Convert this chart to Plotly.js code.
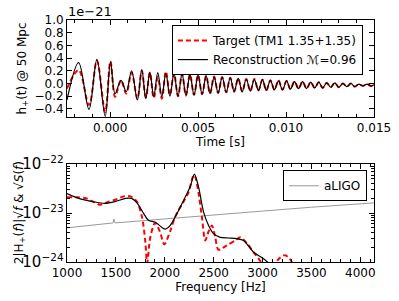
<!DOCTYPE html>
<html>
<head>
<meta charset="utf-8">
<script src="https://cdn.plot.ly/plotly-3.0.1.min.js"></script>
<style>html,body{margin:0;padding:0;background:#fff;}#chart{width:399px;height:301px;}</style>
</head>
<body>
<div id="chart"></div>
<script>
// ---- Top panel: time-domain waveform (extrema) ----
const timeMs = [-2.45, -1.79, -1.20, -0.75, -0.28, 0.02, 0.28, 0.62, 0.92, 1.22,
  1.55, 1.80, 2.03, 2.26, 2.48, 2.71, 2.94, 3.17, 3.40, 3.63,
  3.86, 4.09, 4.31, 4.54, 4.77, 5.00, 5.23, 5.46, 5.68, 5.91,
  6.14, 6.37, 6.60, 6.83, 7.05, 7.28, 7.51, 7.74, 7.97, 8.20,
  8.43, 8.66, 8.88, 9.11, 9.34, 9.57, 9.80, 10.03, 10.25, 10.48,
  10.71, 10.94, 11.17, 11.40, 11.63, 11.86, 12.08, 12.31, 12.54, 12.77,
  13.00, 13.23, 13.46, 13.68, 13.91, 14.14, 14.37, 14.60, 14.83, 15.00];
// strain in units of 1e-21
const hTarget = [-0.08, 0.21, -0.34, 0.36, -0.45, 0.35, -0.21, 0.05, -0.16, 0.17,
  -0.24, 0.20, -0.22, 0.17, -0.23, 0.10, -0.24, 0.19, -0.18, 0.16,
  -0.20, 0.15, -0.19, 0.14, -0.18, 0.13, -0.17, 0.12, -0.16, 0.11,
  -0.15, 0.10, -0.14, 0.09, -0.13, 0.08, -0.13, 0.07, -0.12, 0.07,
  -0.11, 0.06, -0.11, 0.05, -0.10, 0.05, -0.10, 0.04, -0.09, 0.03,
  -0.08, 0.03, -0.08, 0.02, -0.07, 0.02, -0.07, 0.01, -0.06, 0.01,
  -0.06, 0.00, -0.05, 0.00, -0.05, -0.01, -0.04, -0.01, -0.04, -0.02];
const hRecon = [-0.26, 0.33, -0.41, 0.38, -0.52, 0.34, -0.16, 0.05, -0.13, 0.20,
  -0.26, 0.22, -0.24, 0.18, -0.21, 0.17, -0.21, 0.16, -0.20, 0.16,
  -0.20, 0.15, -0.19, 0.14, -0.18, 0.13, -0.17, 0.12, -0.16, 0.10,
  -0.15, 0.10, -0.14, 0.09, -0.13, 0.08, -0.13, 0.07, -0.12, 0.06,
  -0.11, 0.06, -0.11, 0.05, -0.10, 0.04, -0.10, 0.04, -0.09, 0.03,
  -0.08, 0.03, -0.08, 0.02, -0.07, 0.02, -0.07, 0.01, -0.06, 0.01,
  -0.06, 0.00, -0.05, 0.00, -0.05, -0.01, -0.04, -0.01, -0.04, -0.02];

// ---- Bottom panel: spectra ----
const freqTarget = [1000, 1100, 1200, 1280, 1340, 1420, 1500, 1580, 1650, 1716,
  1767, 1800, 1820, 1852, 1900, 1950, 1995, 2056, 2100, 2141,
  2192, 2244, 2295, 2312, 2346, 2380, 2414, 2448, 2482, 2516,
  2550, 2636, 2721, 2772, 2841, 2909, 2960, 3000, 3080, 3150,
  3230, 3290, 3350];
const ampTarget = [2.1e-23, 2.1e-23, 2.0e-23, 1.66e-23, 1.48e-23, 1.7e-23, 1.9e-23, 2.2e-23, 2.2e-23, 1.7e-23,
  8.3e-24, 2.75e-24, 9.5e-25, 3.2e-24, 6.3e-24, 4.2e-24, 2.3e-24, 4.3e-24, 7.9e-24, 1.15e-23,
  1.7e-23, 2.7e-23, 6.0e-23, 5.5e-23, 2.5e-23, 8.3e-24, 2.75e-24, 4.2e-24, 5.6e-24, 3.2e-24,
  1.78e-24, 2.2e-24, 2.75e-24, 3.2e-24, 2.4e-24, 1.58e-24, 1.17e-24, 8.9e-25, 5.0e-25, 1.07e-24,
  1.38e-24, 1.07e-24, 5.0e-25];
const freqRecon = [1000, 1136, 1250, 1390, 1500, 1600, 1660, 1716, 1784, 1835,
  1903, 1971, 2005, 2056, 2125, 2192, 2261, 2303, 2346, 2397,
  2448, 2499, 2567, 2650, 2738, 2806, 2909, 3010, 3062, 3150];
const ampRecon = [2.5e-23, 1.95e-23, 1.74e-23, 1.58e-23, 1.74e-23, 2.0e-23, 2.0e-23, 1.62e-23, 9.8e-24, 7.1e-24,
  6.5e-24, 5.1e-24, 4.7e-24, 5.6e-24, 9.8e-24, 1.82e-23, 3.5e-23, 6.3e-23, 3.4e-23, 1.05e-23,
  5.6e-24, 3.8e-24, 3.2e-24, 3.1e-24, 3.0e-24, 2.75e-24, 1.58e-24, 1.17e-24, 9.5e-25, 5.0e-25];
const freqALIGO = [1000, 1470, 1480, 1490, 2000, 2500, 3000, 3500, 4140];
const ampALIGO = [5.0e-24, 6.3e-24, 7.6e-24, 6.3e-24, 7.6e-24, 9.3e-24, 1.10e-23, 1.32e-23, 1.62e-23];

const FONT = "DejaVu Sans, Liberation Sans, sans-serif";

const traces = [
  {x: timeMs.map(t => t / 1000), y: hTarget, xaxis: 'x', yaxis: 'y', mode: 'lines',
   name: 'Target (TM1 1.35+1.35)', line: {color: '#ff0000', width: 2, dash: '5px,3px', shape: 'spline', smoothing: 1}},
  {x: timeMs.map(t => t / 1000), y: hRecon, xaxis: 'x', yaxis: 'y', mode: 'lines',
   name: 'Reconstruction \u2133=0.96', line: {color: '#000000', width: 1.2, shape: 'spline', smoothing: 1}},
  {x: freqALIGO, y: ampALIGO, xaxis: 'x2', yaxis: 'y2', mode: 'lines', name: 'aLIGO', legend: 'legend2',
   line: {color: '#999999', width: 1}},
  {x: freqTarget, y: ampTarget, xaxis: 'x2', yaxis: 'y2', mode: 'lines', showlegend: false,
   line: {color: '#ff0000', width: 2, dash: '5px,3px', shape: 'spline', smoothing: 0.8}},
  {x: freqRecon, y: ampRecon, xaxis: 'x2', yaxis: 'y2', mode: 'lines', showlegend: false,
   line: {color: '#000000', width: 1.2, shape: 'spline', smoothing: 0.8}}
];

const axBase = {showline: true, linecolor: '#000', linewidth: 1, mirror: 'ticks', ticks: 'inside',
  ticklen: 5, tickcolor: '#000', showgrid: false, zeroline: false,
  tickfont: {family: FONT, size: 12, color: '#000'}};

const layout = {
  width: 399, height: 301,
  margin: {l: 67, r: 25, t: 20, b: 39},
  paper_bgcolor: '#fff', plot_bgcolor: '#fff',
  font: {family: FONT, size: 12, color: '#000'},
  xaxis: Object.assign({}, axBase, {domain: [0, 1], anchor: 'y', range: [-0.00245, 0.015],
    tick0: 0, dtick: 0.005, tickformat: '.3f',
    minor: {dtick: 0.001, ticks: 'inside', ticklen: 3, tickcolor: '#000'},
    title: {text: 'Time [s]', font: {family: FONT, size: 12}, standoff: 2}}),
  yaxis: Object.assign({}, axBase, {domain: [0.599, 1], anchor: 'x', range: [-0.53, 1.001],
    tick0: 0, dtick: 0.2, tickformat: '.1f'}),
  xaxis2: Object.assign({}, axBase, {domain: [0, 1], anchor: 'y2', range: [1000, 4140],
    tick0: 1000, dtick: 500,
    minor: {dtick: 100, ticks: 'inside', ticklen: 3, tickcolor: '#000'},
    title: {text: 'Frequency [Hz]', font: {family: FONT, size: 12}, standoff: 2}}),
  yaxis2: Object.assign({}, axBase, {domain: [0, 0.404], anchor: 'x2', type: 'log', range: [-24, -22],
    dtick: 1, exponentformat: 'power',
    minor: {dtick: 'D1', ticks: 'inside', ticklen: 3, tickcolor: '#000', showgrid: false}}),
  legend: {x: 0.964, xanchor: 'right', y: 0.979, yanchor: 'top', bgcolor: '#fff',
    bordercolor: '#000', borderwidth: 1, font: {family: FONT, size: 12}, tracegroupgap: 0},
  legend2: {x: 0.977, xanchor: 'right', y: 0.379, yanchor: 'top', bgcolor: '#fff',
    bordercolor: '#000', borderwidth: 1, font: {family: FONT, size: 12}},
  annotations: [
    {text: '1e\u221221', xref: 'paper', yref: 'paper', x: 0, y: 1, xanchor: 'left', yanchor: 'bottom',
     showarrow: false, font: {family: FONT, size: 13}, xshift: -1, yshift: -1},
    {text: 'h<sub>+</sub>(t) @ 50 Mpc', xref: 'paper', yref: 'paper', x: -0.143, y: 0.80,
     xanchor: 'center', yanchor: 'middle', textangle: -90, showarrow: false, font: {family: FONT, size: 12}},
    {text: '2|H<sub>+</sub>(<i>f</i>)|\u221A<i>f</i> & \u221A<i>S</i>(<i>f</i>)', xref: 'paper', yref: 'paper',
     x: -0.153, y: 0.202, xanchor: 'center', yanchor: 'middle', textangle: -90, showarrow: false,
     font: {family: FONT, size: 12}}
  ]
};

Plotly.newPlot('chart', traces, layout, {displayModeBar: false, staticPlot: true});
</script>
</body>
</html>
